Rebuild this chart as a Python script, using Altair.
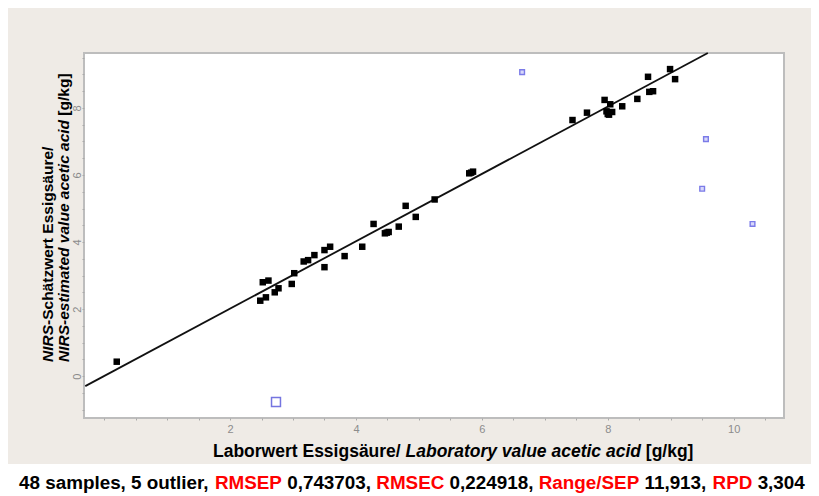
import json
import altair as alt
import pandas as pd

# ---------------- data ----------------
cal_x = [0.20, 2.48, 2.57, 2.52, 2.61, 2.71, 2.77, 2.98, 3.02, 3.17, 3.24, 3.34, 3.50, 3.59,
         3.50, 3.82, 4.10, 4.28, 4.46, 4.49, 4.52, 4.68, 4.79, 4.95, 5.25, 5.80, 5.83, 5.86,
         7.44, 7.67, 7.95, 7.98, 8.00, 8.02, 8.07, 8.04, 8.23, 8.47, 8.64, 8.66, 8.72, 8.99, 9.07]
cal_y = [0.43, 2.25, 2.35, 2.80, 2.85, 2.50, 2.62, 2.75, 3.07, 3.42, 3.46, 3.61, 3.76, 3.86,
         3.25, 3.58, 3.86, 4.54, 4.26, 4.28, 4.30, 4.46, 5.08, 4.75, 5.27, 6.05, 6.07, 6.10,
         7.64, 7.86, 8.24, 7.90, 7.82, 7.80, 7.88, 8.11, 8.05, 8.27, 8.93, 8.48, 8.50, 9.16, 8.86]

# outliers (first one drawn larger)
out_big_x = [2.73]
out_big_y = [-0.77]
out_x = [6.64, 9.56, 9.50, 10.30]
out_y = [9.07, 7.07, 5.59, 4.54]

# fitted line end points
fit_x = [-0.30, 9.59]
fit_y = [-0.30, 9.64]

x_tick_positions = [0, 0.5, 1, 1.5, 2, 2.5, 3, 3.5, 4, 4.5, 5, 5.5, 6, 6.5, 7, 7.5, 8,
                    8.5, 9, 9.5, 10, 10.5]
y_tick_positions = [-1, -0.5, 0, 0.5, 1, 1.5, 2, 2.5, 3, 3.5, 4, 4.5, 5, 5.5, 6, 6.5, 7,
                    7.5, 8, 8.5, 9, 9.5]
x_labels = [2, 4, 6, 8, 10]
y_labels = [0, 2, 4, 6, 8]

x_title_parts = [("Laborwert Essigsäure/", False), ("Laboratory value acetic acid", True),
                 ("[g/kg]", False)]
y_title_line1 = [("NIRS", True), ("-Schätzwert Essigsäure/", False)]
y_title_line2 = [("NIRS-estimated value acetic acid", True), ("[g/kg]", False)]
footer_parts = [("48 samples, 5 outlier,", "black"), ("RMSEP", "#FF0000"),
                ("0,743703,", "black"), ("RMSEC", "#FF0000"), ("0,224918,", "black"),
                ("Range/SEP", "#FF0000"), ("11,913,", "black"), ("RPD", "#FF0000"),
                ("3,304", "black")]

# ---------------- layout helpers ----------------
FONT = "Liberation Sans"
AW = {' ': 278, '!': 333, '-': 333, '/': 278, '[': 333, ']': 333, ',': 278, '.': 278,
      'A': 722, 'B': 722, 'C': 722, 'D': 722, 'E': 667, 'F': 611, 'G': 778, 'H': 722,
      'I': 278, 'J': 556, 'K': 722, 'L': 611, 'M': 833, 'N': 722, 'O': 778, 'P': 667,
      'Q': 778, 'R': 722, 'S': 667, 'T': 611, 'U': 722, 'V': 667, 'W': 944, 'X': 667,
      'Y': 667, 'Z': 611,
      'a': 556, 'b': 611, 'c': 556, 'd': 611, 'e': 556, 'f': 333, 'g': 611, 'h': 611,
      'i': 278, 'j': 278, 'k': 556, 'l': 278, 'm': 889, 'n': 611, 'o': 611, 'p': 611,
      'q': 611, 'r': 389, 's': 556, 't': 333, 'u': 611, 'v': 556, 'w': 778, 'x': 556,
      'y': 556, 'z': 500, 'ä': 556, 'ü': 611}


def tw(s, size):
    return sum(AW.get(c, 556) for c in s) * size / 1000.0


one = pd.DataFrame({"k": [0]})


def text_layer(txt, x, y, size, italic=False, color="black", angle=0):
    kw = dict(text=txt, font=FONT, fontSize=size, fontWeight="bold", color=color,
              align="left", baseline="alphabetic")
    if italic:
        kw["fontStyle"] = "italic"
    if angle:
        kw["angle"] = angle
    return alt.Chart(one).mark_text(**kw).encode(x=alt.value(x), y=alt.value(y))


def run(parts, x0, y0, size, vertical=False):
    layers = []
    prefix = ""
    for i, p in enumerate(parts):
        txt, style = p
        italic = style is True
        color = style if isinstance(style, str) else "black"
        off = tw(prefix, size)
        if vertical:
            layers.append(text_layer(txt, x0, y0 - off, size, italic, color, angle=270))
        else:
            layers.append(text_layer(txt, x0 + off, y0, size, italic, color))
        sep = "" if (i + 1 < len(parts) and parts[i + 1][0].startswith("-")) else " "
        prefix += txt + sep
    return layers


W, H = 700, 365
xs = alt.Scale(domain=[-0.32, 10.8], nice=False, zero=False)
ys = alt.Scale(domain=[-1.25, 9.64], nice=False, zero=False)

x_expr = "indexof(%s, datum.value) >= 0 ? format(datum.value, 'd') : ''" % json.dumps(x_labels)
y_expr = "indexof(%s, datum.value) >= 0 ? format(datum.value, 'd') : ''" % json.dumps(y_labels)

xaxis = alt.Axis(values=x_tick_positions, labelExpr=x_expr, title=None, domain=False,
                 grid=False, tickSize=2, tickColor="#AAAAAA", labelColor="#8C8C8C",
                 labelFont=FONT, labelFontSize=11, labelPadding=3)
yaxis = alt.Axis(values=y_tick_positions, labelExpr=y_expr, title=None, domain=False,
                 grid=False, tickSize=2, tickColor="#AAAAAA", labelColor="#8C8C8C",
                 labelFont=FONT, labelFontSize=11, labelPadding=0, labelAngle=270,
                 labelAlign="center", labelBaseline="bottom")

fit_df = pd.DataFrame({"x": fit_x, "y": fit_y})
cal_df = pd.DataFrame({"x": cal_x, "y": cal_y})
ob_df = pd.DataFrame({"x": out_big_x, "y": out_big_y})
os_df = pd.DataFrame({"x": out_x, "y": out_y})

enc = dict(x=alt.X("x:Q", scale=xs, axis=xaxis), y=alt.Y("y:Q", scale=ys, axis=yaxis))

band = alt.Chart(one).mark_rect(color="white").encode(
    x=alt.value(-76), x2=alt.value(727), y=alt.value(411), y2=alt.value(460))

line = alt.Chart(fit_df).mark_line(color="#111111", strokeWidth=1.8).encode(**enc)
pts = alt.Chart(cal_df).mark_square(size=42, color="black", opacity=1).encode(**enc)
obig = alt.Chart(ob_df).mark_point(shape="square", size=80, filled=False, stroke="#7575E0",
                                   strokeWidth=1.5, opacity=1).encode(**enc)
osml = alt.Chart(os_df).mark_point(shape="square", size=22, fill="#D8D8FA", fillOpacity=1,
                                   stroke="#7B7BE8", strokeWidth=1.4, opacity=1).encode(**enc)

texts = []
texts += run(x_title_parts, 129, 404, 17.5)
texts += run([(t, c) for t, c in footer_parts], -65, 436, 18.85)
texts += run(y_title_line1, -31.5, 309, 15.5, vertical=True)
texts += run(y_title_line2, -15, 309, 15.5, vertical=True)

chart = alt.layer(band, line, pts, obig, osml, *texts).properties(
    width=W, height=H,
    padding={"left": 76, "top": 45, "right": 27, "bottom": 78},
    autosize="none",
    background="#EFEBE6",
).configure_view(fill="white", stroke="#BDBDBD", strokeWidth=2)

chart.save("out.html", embed_options={"renderer": "svg", "actions": False})
